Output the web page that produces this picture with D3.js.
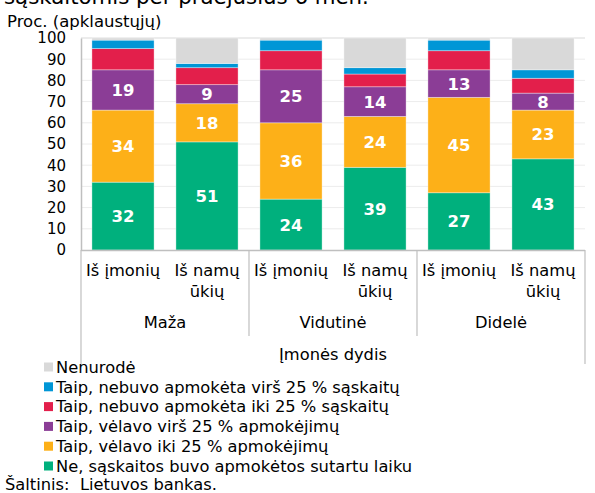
<!DOCTYPE html>
<html>
<head>
<meta charset="utf-8">
<script src="https://cdn.jsdelivr.net/npm/d3@7"></script>
<style>
  body { margin: 0; background: #fff; }
  svg { font-family: "DejaVu Sans", Verdana, sans-serif; }
</style>
</head>
<body>
<svg id="chart"></svg>
<script>
var width = 595;
var height = 493;

// data
const groups = ["Maža", "Vidutinė", "Didelė"];
const subLabels = [["Iš įmonių"], ["Iš namų", "ūkių"]];
const bars = ["Maža|imones", "Maža|namai", "Vidutinė|imones", "Vidutinė|namai", "Didelė|imones", "Didelė|namai"];
const seriesNames = [
    "Ne, sąskaitos buvo apmokėtos sutartu laiku",
    "Taip, vėlavo iki 25 % apmokėjimų",
    "Taip, vėlavo virš 25 % apmokėjimų",
    "Taip, nebuvo apmokėta iki 25 % sąskaitų",
    "Taip, nebuvo apmokėta virš 25 % sąskaitų",
    "Nenurodė"
];
const ontime   = [32, 51, 24, 39, 27, 43];
const lateLow  = [34, 18, 36, 24, 45, 23];
const lateHigh = [19, 9, 25, 14, 13, 8];
const unpaidLow  = [10, 8, 9, 6, 9, 7];
const unpaidHigh = [4, 2, 5, 3, 5, 4];
const notSaid    = [1, 12, 1, 14, 1, 15];
const yTicks = [0, 10, 20, 30, 40, 50, 60, 70, 80, 90, 100];
const colors = ["#00b07d", "#fdb018", "#8b3d96", "#e31f4b", "#0096d6", "#d9d9d9"];

const series = [ontime, lateLow, lateHigh, unpaidLow, unpaidHigh, notSaid];
const fs = 16.3;

var svg = d3.select("#chart")
    .attr("width", width)
    .attr("height", height)
    .attr("viewBox", [0, 0, width, height]);

let x = d3.scaleBand().domain(bars).range([81, 585]).paddingInner(0.26).paddingOuter(0.13);
let y = d3.scaleLinear().domain([0, 100]).range([250, 38]);

// title (cut at the top, as in the source) and unit
svg.append("text").attr("x", 4).attr("y", 4)
    .attr("font-size", 21.3).attr("fill", "#000")
    .text("sąskaitomis per praėjusius 6 mėn.");
svg.append("text").attr("x", 7).attr("y", 27)
    .attr("font-size", 16.5).attr("fill", "#000")
    .text("Proc. (apklaustųjų)");

// grid
svg.append("g").selectAll("line")
    .data(yTicks.filter(d => d > 0))
    .join("line")
    .attr("x1", 81).attr("x2", 585)
    .attr("y1", d => y(d)).attr("y2", d => y(d))
    .attr("stroke", d => d === 100 ? "#d9d9d9" : "#ececec")
    .attr("stroke-width", 1);

// y axis
let yAxis = svg.append("g")
    .attr("transform", "translate(81,0)")
    .call(d3.axisLeft(y).tickValues(yTicks).tickSize(0).tickPadding(15));
yAxis.select(".domain").attr("stroke", "#bfbfbf").attr("stroke-width", 1.5);
yAxis.selectAll("text").attr("font-size", 15).attr("fill", "#000")
    .attr("font-family", "DejaVu Sans, Verdana, sans-serif");

// stacked bars
let stackData = bars.map((b, i) => {
    let o = {key: b};
    series.forEach((s, j) => o[j] = s[i]);
    return o;
});
let stacked = d3.stack().keys(d3.range(series.length))(stackData);

let layers = svg.append("g").selectAll("g")
    .data(stacked)
    .join("g")
    .attr("fill", (d, i) => colors[i]);
layers.selectAll("rect")
    .data(d => d)
    .join("rect")
    .attr("x", d => x(d.data.key))
    .attr("width", x.bandwidth())
    .attr("y", d => y(d[1]))
    .attr("height", d => y(d[0]) - y(d[1]))
    .attr("stroke", "#fff")
    .attr("stroke-opacity", 0.45)
    .attr("stroke-width", 0.8);

// value labels for the lower three series
svg.append("g").selectAll("g")
    .data(stacked.slice(0, 3))
    .join("g")
    .selectAll("text")
    .data(d => d)
    .join("text")
    .attr("x", d => x(d.data.key) + x.bandwidth() / 2)
    .attr("y", d => (y(d[0]) + y(d[1])) / 2)
    .attr("dy", "0.36em")
    .attr("text-anchor", "middle")
    .attr("font-size", 16.5)
    .attr("font-weight", "bold")
    .attr("fill", "#fff")
    .text(d => d[1] - d[0]);

// bottom axis line and category box
svg.append("line").attr("x1", 81).attr("x2", 585).attr("y1", 250.5).attr("y2", 250.5)
    .attr("stroke", "#bfbfbf").attr("stroke-width", 1.5);
let step = x.step();
let seps = [0, 2, 4, 6].map(k => 81 + k * step);
svg.append("g").selectAll("line")
    .data(seps)
    .join("line")
    .attr("x1", d => d).attr("x2", d => d)
    .attr("y1", 250)
    .attr("y2", (d, i) => (i === 0 || i === seps.length - 1) ? 364 : 336)
    .attr("stroke", "#bfbfbf").attr("stroke-width", 1.2);

// category labels
let cat = svg.append("g").attr("font-size", fs).attr("fill", "#000").attr("text-anchor", "middle");
bars.forEach((b, i) => {
    let lines = subLabels[i % 2];
    lines.forEach((t, k) => {
        cat.append("text")
            .attr("x", x(b) + x.bandwidth() / 2)
            .attr("y", 276 + k * 21)
            .text(t);
    });
});
groups.forEach((g, i) => {
    cat.append("text")
        .attr("x", 81 + (2 * i + 1) * step)
        .attr("y", 328)
        .text(g);
});
cat.append("text").attr("x", 333).attr("y", 360).text("Įmonės dydis");

// legend, top to bottom in reverse series order
let legend = svg.append("g").attr("font-size", fs).attr("fill", "#000");
let legendItems = d3.range(series.length).reverse();
legendItems.forEach((s, k) => {
    let ly = 367 + k * 19.8;
    legend.append("rect")
        .attr("x", 44).attr("y", ly - 4.5)
        .attr("width", 9).attr("height", 9)
        .attr("fill", colors[s]);
    legend.append("text")
        .attr("x", 56).attr("y", ly + 5.8)
        .text(seriesNames[s]);
});

svg.append("text").attr("x", 5).attr("y", 490)
    .attr("font-size", fs).attr("fill", "#000")
    .style("white-space", "pre")
    .text("Šaltinis:  Lietuvos bankas.");
</script>
</body>
</html>
